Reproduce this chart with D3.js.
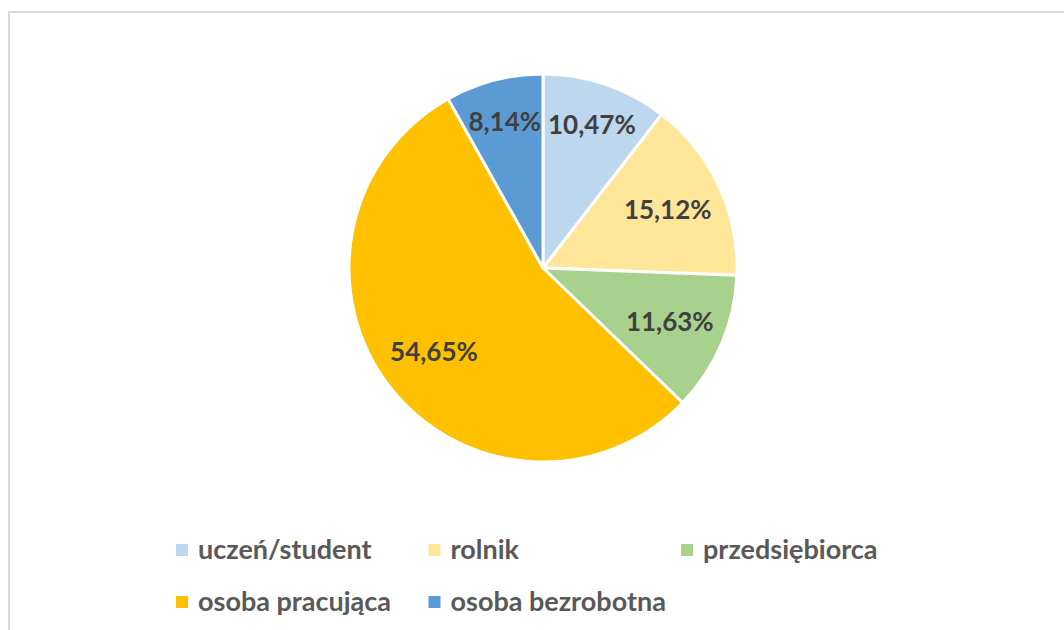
<!DOCTYPE html>
<html>
<head>
<meta charset="utf-8">
<script src="https://cdnjs.cloudflare.com/ajax/libs/d3/7.8.5/d3.min.js"></script>
<style>
  body { margin: 0; background: #fff; }
  svg { display: block; }
</style>
</head>
<body>
<div class="chart"></div>
<script>
// values
var categories = ["uczeń/student", "rolnik", "przedsiębiorca", "osoba pracująca", "osoba bezrobotna"];
var shares = [10.47, 15.12, 11.63, 54.65, 8.14];
var colors = ["#BDD7EE", "#FFE699", "#A9D18E", "#FFC000", "#5B9BD5"];

var W = 1064, H = 630;
var svg = d3.select(".chart").append("svg")
  .attr("width", W)
  .attr("height", H);

// chart frame (runs off the right and bottom edge)
svg.append("rect")
  .attr("x", 9)
  .attr("y", 12)
  .attr("width", W + 20)
  .attr("height", H + 20)
  .attr("fill", "#fff")
  .attr("stroke", "#d9d9d9")
  .attr("stroke-width", 2);

var data = categories.map(function(c, i){ return {name: c, value: shares[i], color: colors[i]}; });

var r = 194;
var g = svg.append("g")
  .attr("transform", "translate(543,268)");

var pie = d3.pie()
  .value(function(d){ return d.value; })
  .sort(null);

var arc = d3.arc()
  .innerRadius(0)
  .outerRadius(r);

// small slices get their label pushed further out, like excel's best fit
var labelR = function(d){ return d.data.value < 11 ? r * 0.78 : r * 0.71; };

var fmt = function(v){ return v.toFixed(2).replace(".", ",") + "%"; };

var arcs = g.selectAll(".arc")
  .data(pie(data))
  .enter()
  .append("g")
  .attr("class", "arc");

arcs.append("path")
  .attr("d", arc)
  .attr("fill", function(d){ return d.data.color; })
  .attr("stroke", "#fff")
  .attr("stroke-width", 3)
  .attr("stroke-linejoin", "round");

arcs.append("text")
  .attr("transform", function(d){
    var lr = labelR(d);
    var c = d3.arc().innerRadius(lr).outerRadius(lr).centroid(d);
    return "translate(" + c + ")";
  })
  .attr("text-anchor", "middle")
  .attr("dy", "0.35em")
  .attr("font-family", "Lato, 'Open Sans', sans-serif")
  .attr("font-weight", "bold")
  .attr("font-size", 26)
  .attr("fill", "#404040")
  .text(function(d){ return fmt(d.data.value); });

// legend: 3 columns, 2 rows
var legend = svg.append("g")
  .attr("transform", "translate(176,550)");

var items = legend.selectAll(".item")
  .data(data)
  .enter()
  .append("g")
  .attr("class", "item")
  .attr("transform", function(d, i){ return "translate(" + (i % 3) * 252.5 + "," + Math.floor(i / 3) * 52 + ")"; });

items.append("rect")
  .attr("x", 0)
  .attr("y", -6)
  .attr("width", 12)
  .attr("height", 12)
  .attr("fill", function(d){ return d.color; });

items.append("text")
  .attr("x", 22)
  .attr("y", 0)
  .attr("dy", "0.35em")
  .attr("font-family", "Lato, 'Open Sans', sans-serif")
  .attr("font-weight", "bold")
  .attr("font-size", 27)
  .attr("fill", "#595959")
  .text(function(d){ return d.name; });
</script>
</body>
</html>
